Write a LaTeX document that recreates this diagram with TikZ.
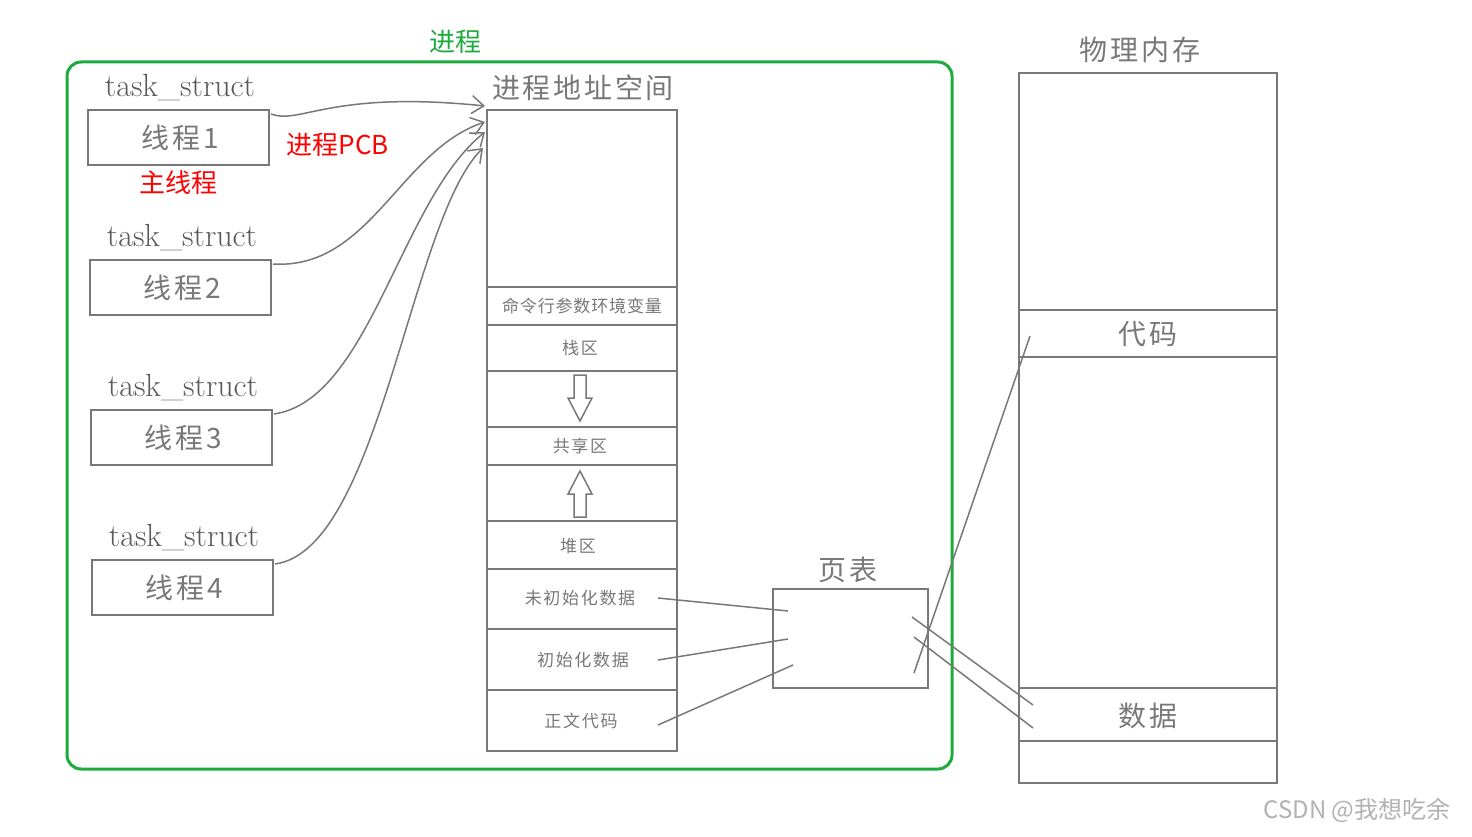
\documentclass[tikz,border=0pt]{standalone}
\usepackage{fontspec}
\newfontfamily\cjk{Noto Sans CJK SC}
\newfontfamily\cjks[LetterSpace=10]{Noto Sans CJK SC}
\usetikzlibrary{arrows.meta}
\definecolor{gr}{RGB}{120,120,120}
\definecolor{grn}{RGB}{30,170,60}
\tikzset{box/.style={draw=gr,line width=2pt},
lab/.style={text=gr,font=\cjks\fontsize{28}{30}\selectfont},
small/.style={text=gr,font=\cjks\fontsize{17}{19}\selectfont},
ts/.style={text=black!65,font=\fontsize{32}{34}\selectfont},
ln/.style={draw=gr,line width=1.5pt},
arr/.style={draw=gr,line width=1.5pt,-{Straight Barb[length=12pt,width=18pt]}}}
\begin{document}
\begin{tikzpicture}[x=1pt,y=-1pt]
\useasboundingbox (0,0) rectangle (1472,837);
\fill[white] (0,0) rectangle (1472,837);
\draw[grn,line width=3pt,rounded corners=14pt] (67,62) rectangle (952,769);
\node[text=grn,font=\cjk\fontsize{26}{28}\selectfont] (jc) at (455,42) {进程};
% threads
\foreach \i/\x/\y in {1/88/110,2/90/260,3/91/410,4/92/560}{
  \node[ts] (t\i) at (\x+92,\y-22) {task\_struct};
  \draw[box] (\x,\y) rectangle (\x+181,\y+55);
  \coordinate (b\i) at (\x+183,\y+4);
  \node[lab] (th\i) at (\x+92,\y+28) {线程\i};
}
\node[text=red,font=\cjk\fontsize{26}{28}\selectfont] (pcb) at (338,145) {进程PCB};
\node[text=red,font=\cjk\fontsize{26}{28}\selectfont] (main) at (178,183) {主线程};
% address space
\node[lab] (as) at (583,88) {进程地址空间};
\draw[box] (487,110) rectangle (677,751);
\foreach \y in {287,325,371,427,465,521,569,629,690}{\draw[box] (487,\y) -- (677,\y);}
\node[text=gr,font=\cjk\fontsize{17}{19}\selectfont\addfontfeatures{LetterSpace=5}] (s1) at (582,306) {命令行参数环境变量};
\node[small] (s2) at (580,348) {栈区};
\node[small] (s3) at (580,446) {共享区};
\node[small] (s4) at (578,546) {堆区};
\node[small] (s5) at (580,598) {未初始化数据};
\node[small] (s6) at (583,660) {初始化数据};
\node[small] (s7) at (581,721) {正文代码};
\draw[box,line width=1.5pt] (574,375)--(586,375)--(586,398)--(592,398)--(580,421)--(568,398)--(574,398)--cycle;
\draw[box,line width=1.5pt] (574,517)--(586,517)--(586,494)--(592,494)--(580,471)--(568,494)--(574,494)--cycle;
% curves
\coordinate (e1) at (485,106);
\coordinate (e2) at (485,122);
\coordinate (e3) at (485,132);
\coordinate (e4) at (483,148);
\draw[arr] (b1) .. controls (300,125) and (330,90) .. (e1);
\draw[arr] (b2) .. controls (370,270) and (400,150) .. (e2);
\draw[arr] (b3) .. controls (370,400) and (400,200) .. (e3);
\draw[arr] (b4) .. controls (380,550) and (410,220) .. (e4);
% page table
\node[lab] (pt) at (848,570) {页表};
\draw[box] (773,589) rectangle (928,688);
\coordinate (a1) at (658,598); \coordinate (a2) at (788,611);
\coordinate (a3) at (658,660); \coordinate (a4) at (788,639);
\coordinate (a5) at (658,725); \coordinate (a6) at (793,665);
\draw[ln] (a1)--(a2); \draw[ln] (a3)--(a4); \draw[ln] (a5)--(a6);
\coordinate (p1) at (914,673); \coordinate (p2) at (1030,336);
\coordinate (p3) at (912,617); \coordinate (p4) at (1033,705);
\coordinate (p5) at (914,637); \coordinate (p6) at (1033,728);
\draw[ln] (p1)--(p2); \draw[ln] (p3)--(p4); \draw[ln] (p5)--(p6);
% physical memory
\node[lab] (pm) at (1140,50) {物理内存};
\draw[box] (1019,73) rectangle (1277,783);
\foreach \y in {310,357,688,741}{\draw[box] (1019,\y) -- (1277,\y);}
\node[lab] (dm) at (1148,334) {代码};
\node[lab] (sj) at (1148,716) {数据};
\node[text=gray!60,font=\cjk\fontsize{24}{26}\selectfont] (wm) at (1357,810) {CSDN @我想吃余};
\end{tikzpicture}
\end{document}
